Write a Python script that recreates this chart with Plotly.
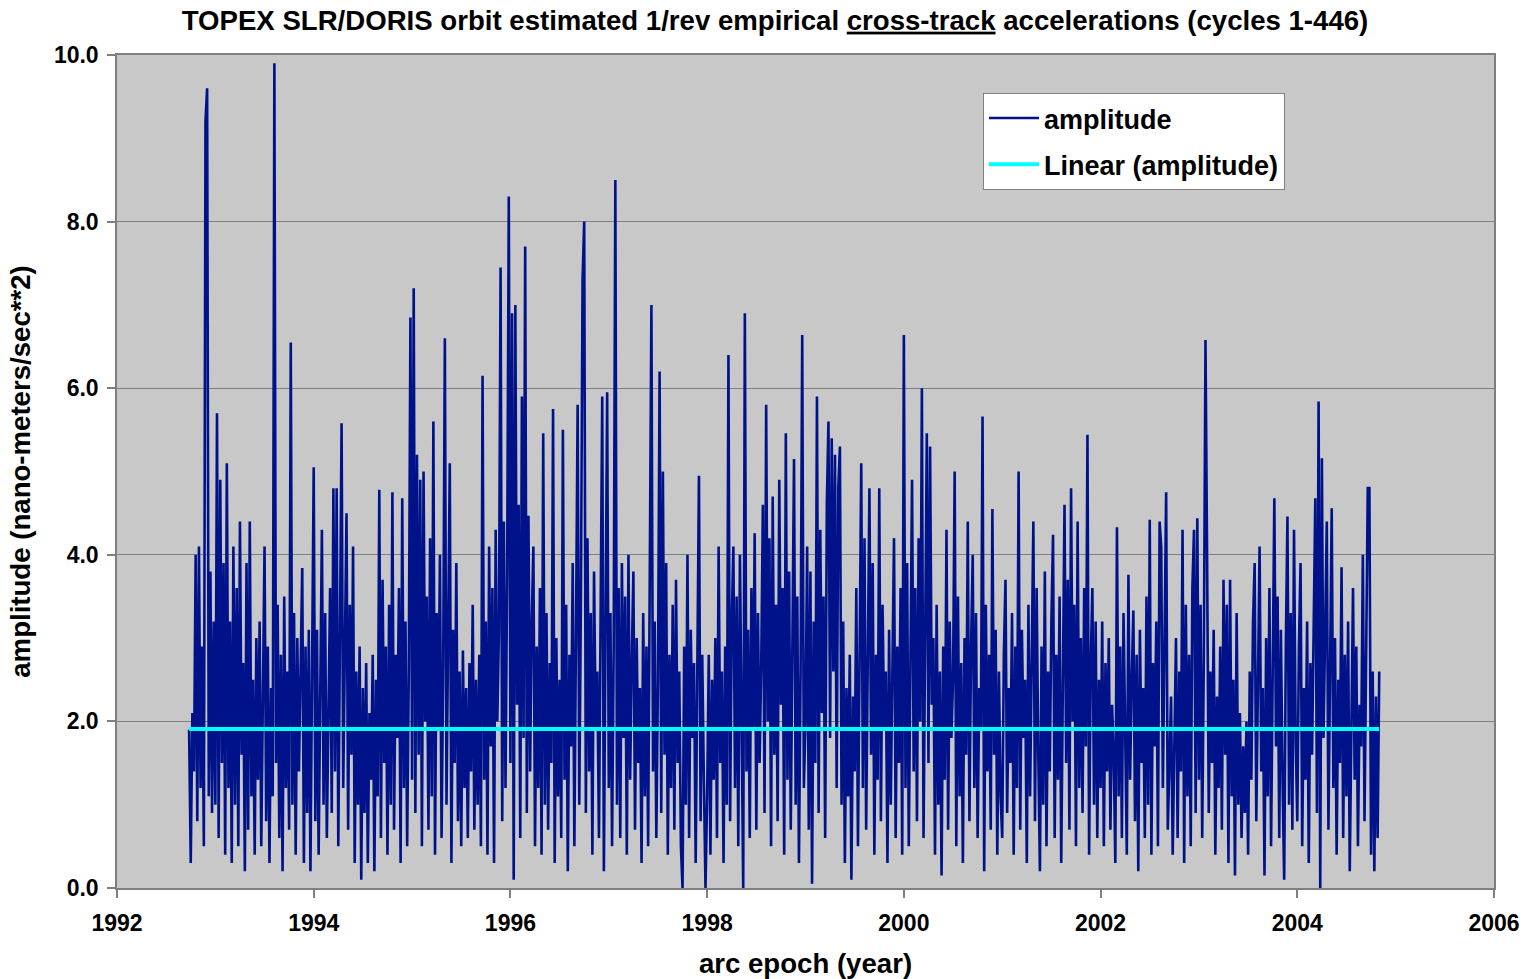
import plotly.graph_objects as go

# ---- data (approx. 60 arcs per year) ----
ARCS_PER_YEAR = 60

amp_1992 = [1.9, 0.3, 2.1, 1.4, 4.0, 0.8, 4.1, 1.2, 2.9, 0.5,
            9.2, 9.6, 1.1, 3.8, 0.9, 3.2]
amp_1993 = [1.0, 5.7, 0.6, 4.9, 1.5, 3.9, 0.4, 5.1, 1.2, 3.2,
            0.3, 4.1, 1.0, 3.6, 0.5, 4.4, 1.6, 2.7, 0.2, 3.9,
            0.7, 4.4, 1.1, 2.5, 0.4, 3.0, 1.3, 3.2, 0.5, 2.2,
            4.1, 0.8, 2.9, 0.3, 2.4, 1.1, 9.9, 1.5, 3.4, 0.6,
            2.8, 0.2, 3.5, 1.2, 2.6, 0.7, 6.55, 1.0, 3.3, 0.4,
            3.0, 1.4, 2.5, 3.84, 0.3, 2.9, 0.9, 3.1, 0.2, 2.4]
amp_1994 = [5.05, 0.8, 3.1, 0.4, 2.7, 4.3, 1.0, 3.3, 0.6, 2.2,
            3.6, 0.9, 4.8, 1.4, 4.8, 0.5, 2.9, 5.58, 1.2, 3.0,
            4.5, 0.7, 3.4, 1.6, 4.1, 0.3, 2.6, 1.0, 2.9, 0.1,
            2.4, 0.9, 2.7, 0.3, 2.1, 1.3, 2.8, 0.2, 2.5, 1.1,
            4.78, 0.6, 3.7, 1.5, 2.9, 0.4, 3.4, 1.0, 4.75, 0.7,
            2.8, 1.8, 3.6, 0.3, 4.68, 1.2, 3.2, 0.5, 2.6, 6.85]
amp_1995 = [1.3, 7.2, 0.9, 5.2, 1.6, 4.9, 0.5, 5.0, 2.0, 3.5,
            0.7, 4.2, 1.1, 5.6, 0.4, 3.3, 1.9, 4.0, 0.6, 2.7,
            6.6, 1.0, 3.6, 5.1, 0.3, 3.1, 1.5, 3.9, 0.8, 2.6,
            0.5, 2.85, 1.2, 2.4, 0.6, 2.7, 1.4, 3.4, 0.7, 2.5,
            1.0, 2.8, 0.5, 6.15, 1.3, 3.2, 0.4, 4.1, 1.7, 3.6,
            0.3, 4.3, 2.0, 3.1, 7.45, 0.8, 4.4, 1.2, 3.8, 8.3]
amp_1996 = [1.5, 6.9, 0.1, 7.0, 2.2, 4.6, 0.6, 5.9, 1.8, 7.7,
            0.9, 4.47, 1.4, 3.2, 4.1, 0.5, 2.9, 1.2, 3.6, 0.4,
            5.46, 1.0, 3.3, 0.7, 2.7, 1.5, 5.75, 0.3, 3.0, 1.1,
            2.5, 0.6, 5.5, 1.3, 3.4, 0.2, 2.8, 1.7, 3.9, 0.5,
            3.1, 5.8, 1.0, 3.5, 7.3, 8.0, 0.9, 4.2, 1.4, 3.3,
            0.4, 3.8, 1.9, 2.6, 0.6, 3.7, 5.9, 0.2, 3.4, 5.95]
amp_1997 = [1.2, 3.3, 0.5, 2.9, 8.5, 1.0, 3.6, 0.6, 3.9, 1.8,
            3.5, 0.4, 4.0, 1.3, 2.7, 3.8, 0.7, 3.0, 1.5, 2.4,
            0.3, 3.3, 1.1, 2.9, 0.5, 3.6, 7.0, 1.4, 3.2, 0.6,
            2.5, 6.2, 0.9, 5.0, 1.6, 3.9, 0.4, 2.8, 1.2, 3.4,
            0.7, 3.7, 1.5, 2.6, 0.5, 0.0, 2.9, 1.0, 4.0, 0.6,
            3.1, 1.8, 2.7, 0.3, 2.4, 4.95, 0.8, 2.8, 1.3, 0.0]
amp_1998 = [1.1, 2.8, 0.4, 2.5, 1.3, 3.0, 0.6, 4.1, 1.5, 2.6,
            0.3, 2.9, 1.0, 6.4, 0.8, 3.2, 4.1, 1.2, 3.5, 0.5,
            4.0, 1.8, 0.0, 6.9, 1.4, 3.1, 0.6, 3.6, 1.9, 4.26,
            0.7, 3.3, 1.5, 2.7, 4.6, 0.9, 5.8, 2.0, 4.2, 0.5,
            4.7, 1.6, 3.4, 0.8, 4.9, 2.2, 3.6, 0.4, 5.46, 1.3,
            3.8, 0.7, 2.9, 5.15, 1.0, 3.5, 0.3, 2.6, 6.64, 1.2]
amp_1999 = [2.0, 4.1, 0.7, 3.8, 0.05, 3.2, 1.5, 5.9, 0.9, 4.3,
            2.1, 3.5, 0.6, 4.6, 5.6, 1.8, 5.4, 2.6, 5.2, 1.2,
            4.8, 5.3, 1.0, 3.2, 0.3, 2.4, 1.1, 2.8, 0.1, 2.3,
            1.4, 3.6, 0.5, 2.9, 5.1, 1.2, 4.2, 0.7, 3.3, 4.8,
            1.6, 3.9, 0.4, 2.8, 1.3, 4.8, 0.8, 3.4, 1.9, 2.6,
            0.3, 3.1, 1.0, 2.5, 4.2, 0.6, 2.9, 1.5, 3.6, 0.4]
amp_2000 = [6.64, 1.2, 3.9, 0.5, 3.1, 4.9, 1.4, 3.6, 0.8, 4.2,
            2.0, 6.0, 0.6, 3.7, 5.46, 1.5, 5.3, 2.2, 3.0, 0.4,
            3.4, 1.0, 2.6, 0.15, 2.9, 1.3, 4.3, 0.7, 3.2, 1.8,
            2.5, 5.0, 0.5, 3.5, 1.1, 2.7, 0.3, 3.0, 1.6, 4.4,
            0.8, 2.9, 4.0, 1.2, 3.3, 0.6, 2.4, 1.9, 5.66, 0.2,
            3.4, 1.4, 2.8, 0.7, 4.55, 1.6, 3.1, 0.4, 2.6, 1.1]
amp_2001 = [0.6, 2.8, 3.7, 0.9, 2.4, 1.5, 3.3, 0.4, 2.9, 1.2,
            5.0, 0.7, 3.1, 1.8, 2.5, 0.3, 3.4, 1.1, 2.7, 4.4,
            0.8, 3.6, 1.6, 0.2, 2.9, 1.0, 3.8, 0.5, 2.6, 1.4,
            3.2, 4.24, 0.6, 2.8, 1.3, 3.5, 0.3, 2.9, 4.6, 1.5,
            3.7, 0.7, 4.8, 2.0, 3.4, 0.5, 4.4, 1.2, 3.0, 0.9,
            3.6, 1.7, 5.44, 0.4, 2.7, 3.6, 1.0, 3.2, 0.6, 2.5]
amp_2002 = [1.2, 3.2, 0.5, 2.7, 1.4, 3.0, 0.7, 2.2, 1.6, 0.3,
            4.33, 1.1, 2.9, 0.6, 3.3, 1.9, 0.4, 3.76, 1.3, 2.5,
            3.33, 0.8, 2.8, 0.2, 3.1, 1.5, 2.4, 0.6, 3.5, 1.0,
            4.42, 0.4, 2.7, 1.7, 3.2, 0.5, 4.4, 4.1, 1.2, 2.9,
            4.75, 0.7, 1.6, 2.3, 0.4, 1.9, 3.0, 0.6, 2.6, 1.4,
            4.3, 0.3, 3.4, 1.1, 2.8, 0.5, 3.6, 4.3, 0.9, 4.44]
amp_2003 = [1.3, 3.4, 0.6, 2.8, 6.58, 3.9, 0.9, 2.6, 1.5, 3.1,
            0.4, 2.3, 1.2, 2.9, 0.7, 3.7, 1.6, 3.4, 0.3, 3.7,
            1.1, 2.5, 0.15, 3.3, 1.0, 2.1, 0.6, 1.7, 0.9, 2.0,
            0.4, 2.6, 1.3, 3.2, 3.9, 0.8, 2.7, 4.1, 1.4, 2.4,
            0.15, 3.0, 1.1, 3.6, 0.5, 2.8, 4.68, 1.7, 3.5, 0.6,
            3.1, 1.3, 0.1, 2.9, 4.46, 1.0, 3.3, 0.7, 4.3, 1.8]
amp_2004 = [0.8, 2.9, 3.9, 0.5, 2.4, 1.3, 3.2, 0.3, 2.7, 1.6,
            3.5, 4.68, 0.9, 5.84, 0.0, 5.16, 1.8, 3.3, 4.4, 0.7,
            2.6, 4.56, 1.2, 3.0, 0.4, 2.5, 1.5, 3.85, 0.6, 2.8,
            1.1, 3.2, 0.2, 2.4, 3.6, 1.3, 2.9, 0.5, 2.2, 1.7,
            4.0, 0.8, 3.1, 4.8, 4.8, 0.4, 2.6, 0.2, 2.3, 0.6,
            2.6]

# first arc epoch of each segment (year)
segment_starts = [1992.733, 1993, 1994, 1995, 1996, 1997, 1998,
                  1999, 2000, 2001, 2002, 2003, 2004]
segments = [amp_1992, amp_1993, amp_1994, amp_1995, amp_1996, amp_1997,
            amp_1998, amp_1999, amp_2000, amp_2001, amp_2002, amp_2003,
            amp_2004]

# linear trend line
trend_epochs = [1992.733, 2004.833]
trend_values = [1.91, 1.91]

x_ticks = [1992, 1994, 1996, 1998, 2000, 2002, 2004, 2006]
y_ticks = [0, 2, 4, 6, 8, 10]

# ---- build series ----
epochs, amps = [], []
for start, vals in zip(segment_starts, segments):
    for i, v in enumerate(vals):
        epochs.append(start + i / ARCS_PER_YEAR)
        amps.append(v)

FONT = "Liberation Sans, Arial, sans-serif"
W, H = 1523, 979
L, R, T, B = 117, 29, 55, 91
BIG = 27.6

fig = go.Figure()
fig.add_trace(go.Scatter(
    x=epochs, y=amps, mode="lines", name="amplitude",
    line=dict(color="#00128A", width=2.6),
    legendgroup="a",
))
fig.add_trace(go.Scatter(
    x=trend_epochs, y=trend_values, mode="lines", name="Linear (amplitude)",
    line=dict(color="#00FFFF", width=4),
    legendgroup="b",
))

fig.update_layout(
    width=W, height=H,
    margin=dict(l=L, r=R, t=T, b=B),
    paper_bgcolor="white",
    plot_bgcolor="#C8C8C8",
    font=dict(family=FONT, color="black"),
    title=dict(
        text="TOPEX SLR/DORIS orbit estimated 1/rev empirical <u>cross-track</u> accelerations (cycles 1-446)",
        font=dict(family=FONT, size=BIG, weight="bold", color="black"),
        x=775 / W, xref="container", xanchor="center",
        y=1 - 20 / H, yref="container", yanchor="middle",
    ),
    showlegend=True,
    legend=dict(
        x=(983 - L) / (W - L - R), y=(H - B - 93) / (H - T - B),
        xanchor="left", yanchor="top",
        bgcolor="white", bordercolor="#808080", borderwidth=1,
        font=dict(family=FONT, size=27, weight="bold", color="black"),
        tracegroupgap=8,
        traceorder="grouped",
        itemwidth=50,
    ),
)

fig.update_xaxes(
    range=[1992, 2006], tickvals=x_ticks,
    ticktext=[str(t) for t in x_ticks],
    showgrid=False, zeroline=False,
    showline=True, linecolor="#7F7F7F", linewidth=1.5, mirror=True,
    ticks="outside", ticklen=8, tickcolor="#7F7F7F", tickwidth=1.5,
    tickfont=dict(family=FONT, size=23, weight="bold", color="black"),
    ticklabelstandoff=6,
    title=dict(text="arc epoch (year)", standoff=18,
               font=dict(family=FONT, size=BIG, weight="bold", color="black")),
    automargin=False,
)
fig.update_yaxes(
    range=[0, 10], tickvals=y_ticks,
    ticktext=[f"{t:.1f}" for t in y_ticks],
    showgrid=True, gridcolor="#808080", gridwidth=1,
    zeroline=False,
    showline=True, linecolor="#7F7F7F", linewidth=1.5, mirror=True,
    ticks="outside", ticklen=8, tickcolor="#7F7F7F", tickwidth=1.5,
    tickfont=dict(family=FONT, size=23, weight="bold", color="black"),
    ticklabelstandoff=4,
    title=dict(text="amplitude (nano-meters/sec**2)", standoff=15,
               font=dict(family=FONT, size=BIG, weight="bold", color="black")),
    automargin=False,
)

fig.write_html("out.html")
